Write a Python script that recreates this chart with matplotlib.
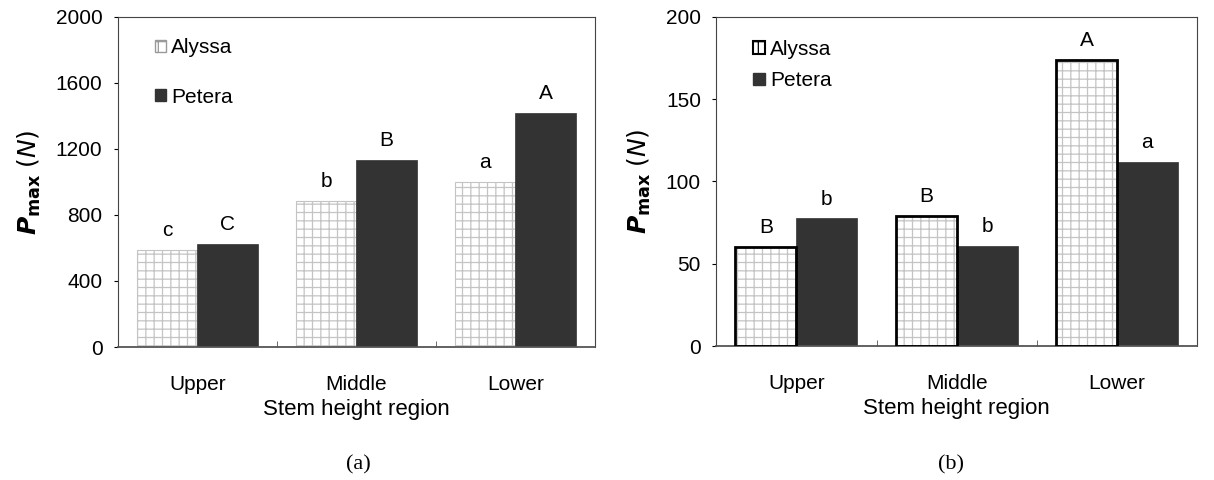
import numpy as np
import matplotlib
matplotlib.use('Agg')
import matplotlib.pyplot as plt

plt.rcParams['font.family'] = ['Liberation Sans', 'DejaVu Sans']
plt.rcParams['hatch.linewidth'] = 0.9

# data
regions = ['Upper', 'Middle', 'Lower']
cultivars = ['Alyssa', 'Petera']

alyssa_a = [590, 882, 1002]
petera_a = [625, 1132, 1415]
letters_alyssa_a = ['c', 'b', 'a']
letters_petera_a = ['C', 'B', 'A']

alyssa_b = [60, 79, 174]
petera_b = [77.5, 61, 112]
letters_alyssa_b = ['B', 'B', 'A']
letters_petera_b = ['b', 'b', 'a']

yticks_a = [0, 400, 800, 1200, 1600, 2000]
yticks_b = [0, 50, 100, 150, 200]

dark = '#333333'
hatch_grey = '#c4c4c4'
fs = 15


def draw_panel(ax, aly, pet, let_a, let_p, yticks, outline, leg_spacing, leg_anchor):
    x = np.arange(len(regions))
    w = 0.38
    ax.bar(x - w / 2, aly, w, color='white', edgecolor=hatch_grey,
           hatch='++', linewidth=0.8, label=cultivars[0])
    if outline:
        ax.bar(x - w / 2, aly, w, color='none', edgecolor='black', linewidth=2, zorder=3)
    ax.bar(x + w / 2, pet, w, color=dark, edgecolor=dark, linewidth=0.5,
           label=cultivars[1])

    top = yticks[-1]
    for xi, v, t in zip(x - w / 2, aly, let_a):
        ax.text(xi, v + top * 0.03, t, ha='center', va='bottom', fontsize=fs)
    for xi, v, t in zip(x + w / 2, pet, let_p):
        ax.text(xi, v + top * 0.03, t, ha='center', va='bottom', fontsize=fs)

    ax.set_xlim(-0.5, 2.5)
    ax.set_ylim(0, top)
    ax.set_yticks(yticks)
    ax.set_xticks(x)
    ax.set_xticklabels(regions)
    ax.set_xticks([0.5, 1.5], minor=True)
    ax.tick_params(axis='x', which='major', length=0, pad=20, labelsize=fs)
    ax.tick_params(axis='x', which='minor', direction='in', length=4, color='#555555')
    ax.tick_params(axis='y', direction='out', length=3, labelsize=fs, pad=8)
    for s in ['top', 'right', 'left']:
        ax.spines[s].set_linewidth(0.8)
        ax.spines[s].set_color('#444444')
    ax.spines['bottom'].set_linewidth(1.3)
    ax.spines['bottom'].set_color('#555555')

    ax.set_xlabel('Stem height region', fontsize=16, labelpad=4)
    ax.set_ylabel(r'$\mathbfit{P}_{\mathbf{max}}$ $(\mathit{N})$', fontsize=18, labelpad=9)

    if outline:
        h1 = plt.Rectangle((0, 0), 1, 1, facecolor='white', edgecolor='black',
                           hatch='+', linewidth=1.5)
    else:
        h1 = plt.Rectangle((0, 0), 1, 1, facecolor='white', edgecolor='#999999',
                           hatch='+', linewidth=1)
    h2 = plt.Rectangle((0, 0), 1, 1, facecolor=dark, edgecolor=dark)
    ax.legend([h1, h2], cultivars, loc='upper left', bbox_to_anchor=leg_anchor,
              frameon=False, fontsize=fs, handlelength=0.55, handleheight=0.55,
              handletextpad=0.25, labelspacing=leg_spacing, borderaxespad=0)


fig = plt.figure(figsize=(12.14, 4.8), dpi=100)
ax1 = fig.add_axes([0.097, 0.277, 0.393, 0.688])
ax2 = fig.add_axes([0.590, 0.279, 0.396, 0.686])

draw_panel(ax1, alyssa_a, petera_a, letters_alyssa_a, letters_petera_a,
           yticks_a, False, 1.45, (0.06, 0.96))
draw_panel(ax2, alyssa_b, petera_b, letters_alyssa_b, letters_petera_b,
           yticks_b, True, 0.6, (0.06, 0.955))

fig.text(0.295, 0.022, '(a)', ha='center', fontsize=16, family='Liberation Serif')
fig.text(0.783, 0.022, '(b)', ha='center', fontsize=16, family='Liberation Serif')

fig.savefig('out.png', dpi=100)
